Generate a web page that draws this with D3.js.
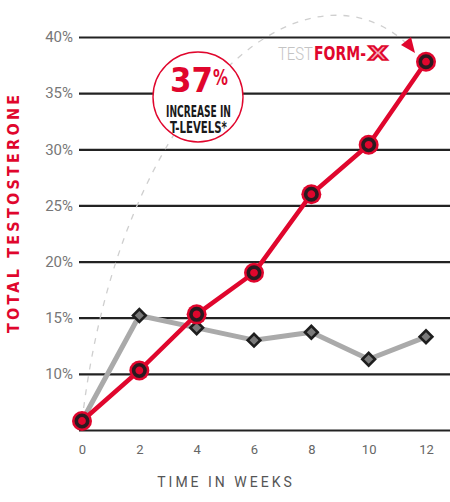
<!DOCTYPE html>
<html>
<head>
<meta charset="utf-8">
<script src="https://cdn.jsdelivr.net/npm/d3@7/dist/d3.min.js"></script>
<style>
  html, body { margin: 0; padding: 0; background: #fff; }
  svg { display: block; }
</style>
</head>
<body>
<svg id="chart" width="450" height="502"></svg>
<script>
// ---- data ----
const weeks = [0, 2, 4, 6, 8, 10, 12];
const testformX = [5.8, 10.3, 15.3, 19.0, 26.0, 30.4, 37.8];
const placebo = [5.8, 15.2, 14.1, 13.0, 13.7, 11.3, 13.3];
const yTicks = [5, 10, 15, 20, 25, 30, 35, 40];
const xTicks = [0, 2, 4, 6, 8, 10, 12];

const RED = "#e0062d";
const DARK = "#2a1a20";

const svg = d3.select("#chart");
const x = d3.scaleLinear().domain([0, 12]).range([82, 426]);
const y = d3.scaleLinear().domain([5, 40]).range([430, 37]);

// place a text at (x0, baseline y0) squeezed horizontally to a given width
function fitText(parent, str, x0, y0, width, attrs) {
  const t = parent.append("text").text(str);
  Object.entries(attrs).forEach(([k, v]) => t.attr(k, v));
  const w = t.node().getComputedTextLength();
  t.attr("transform", `translate(${x0},${y0}) scale(${width / w},1)`);
  return t;
}

// gridlines + y labels
const yAxis = d3.axisLeft(y)
  .tickValues(yTicks)
  .tickSize(371)
  .tickPadding(6)
  .tickFormat(d => d === 5 ? "" : d + "%");
const gy = svg.append("g").attr("transform", "translate(450,0)").call(yAxis);
gy.select(".domain").remove();
gy.selectAll(".tick line").attr("stroke", "#222").attr("stroke-width", 2.2);
gy.selectAll(".tick text")
  .attr("fill", "#777").attr("font-family", "Roboto").attr("font-size", 15);

// x labels
const xAxis = d3.axisBottom(x).tickValues(xTicks).tickSize(0).tickPadding(15);
const gx = svg.append("g").attr("transform", "translate(0,430)").call(xAxis);
gx.select(".domain").remove();
gx.selectAll(".tick text")
  .attr("fill", "#666").attr("font-family", "Roboto").attr("font-size", 13);

// dashed arc annotation
const arcPath = d3.path();
arcPath.moveTo(x(0), y(testformX[0]));
arcPath.bezierCurveTo(120, 100, 300, -50, 405, 42);
svg.append("path")
  .attr("d", arcPath.toString())
  .attr("fill", "none")
  .attr("stroke", "#cfcfcf")
  .attr("stroke-width", 1.3)
  .attr("stroke-dasharray", "6,7");
// arrowhead
svg.append("path")
  .attr("d", "M401,45 L411,37 L415,53 Z")
  .attr("fill", RED);

// placebo line
const line = d3.line().x((d, i) => x(weeks[i])).y(d => y(d));
svg.append("path")
  .datum(placebo)
  .attr("d", line)
  .attr("fill", "none")
  .attr("stroke", "#aaaaaa")
  .attr("stroke-width", 5)
  .attr("stroke-linejoin", "round");

// testformX line
svg.append("path")
  .datum(testformX)
  .attr("d", line)
  .attr("fill", "none")
  .attr("stroke", RED)
  .attr("stroke-width", 4.5)
  .attr("stroke-linejoin", "round");

// placebo diamonds
svg.append("g").selectAll("rect")
  .data(placebo.slice(1))
  .join("rect")
  .attr("x", -4.5).attr("y", -4.5).attr("width", 9).attr("height", 9)
  .attr("transform", (d, i) => `translate(${x(weeks[i + 1])},${y(d)}) rotate(45)`)
  .attr("fill", "#7a7a7a")
  .attr("stroke", "#1e1e1e")
  .attr("stroke-width", 2.6);

// testformX markers
const mk = svg.append("g").selectAll("g")
  .data(testformX)
  .join("g")
  .attr("transform", (d, i) => `translate(${x(weeks[i])},${y(d)})`);
mk.append("circle").attr("r", 10).attr("fill", RED);
mk.append("circle").attr("r", 5.7).attr("fill", RED)
  .attr("stroke", DARK).attr("stroke-width", 3.6);

// bubble
const bub = svg.append("g");
bub.append("circle").attr("cx", 198).attr("cy", 97).attr("r", 45)
  .attr("fill", "#fff").attr("stroke", RED).attr("stroke-width", 1.4);
const condB = { "font-family": "DejaVu Sans Condensed", "font-weight": "bold" };
fitText(bub, "37", 170, 92, 43, { ...condB, "font-size": 33, fill: RED });
fitText(bub, "%", 213, 85, 15, { ...condB, "font-size": 22, fill: RED });
fitText(bub, "INCREASE IN", 166, 117, 65, { ...condB, "font-size": 15.5, fill: "#1a1a1a" });
fitText(bub, "T-LEVELS*", 170, 133, 57, { ...condB, "font-size": 15, fill: "#1a1a1a" });

// brand label
fitText(svg, "TEST", 278, 60, 35,
  { "font-family": "Roboto", "font-weight": 300, "font-size": 19, fill: "#c4c4c4" });
fitText(svg, "FORM-", 314, 60, 52, { ...condB, "font-size": 19, fill: RED });
fitText(svg, "X", 368, 60, 20,
  { ...condB, "font-size": 19, fill: "#f4a9b8", stroke: RED, "stroke-width": 1.6 });

// axis titles
svg.append("text")
  .attr("transform", "translate(19,214) rotate(-90)")
  .attr("text-anchor", "middle")
  .attr("font-family", "DejaVu Sans Condensed").attr("font-weight", "bold")
  .attr("font-size", 16).attr("fill", RED)
  .attr("textLength", 238).attr("lengthAdjust", "spacing")
  .text("TOTAL TESTOSTERONE");
svg.append("text")
  .attr("x", 226).attr("y", 487)
  .attr("text-anchor", "middle")
  .attr("font-family", "Roboto")
  .attr("font-size", 14).attr("fill", "#555")
  .attr("letter-spacing", 3)
  .text("TIME IN WEEKS");
</script>
</body>
</html>
